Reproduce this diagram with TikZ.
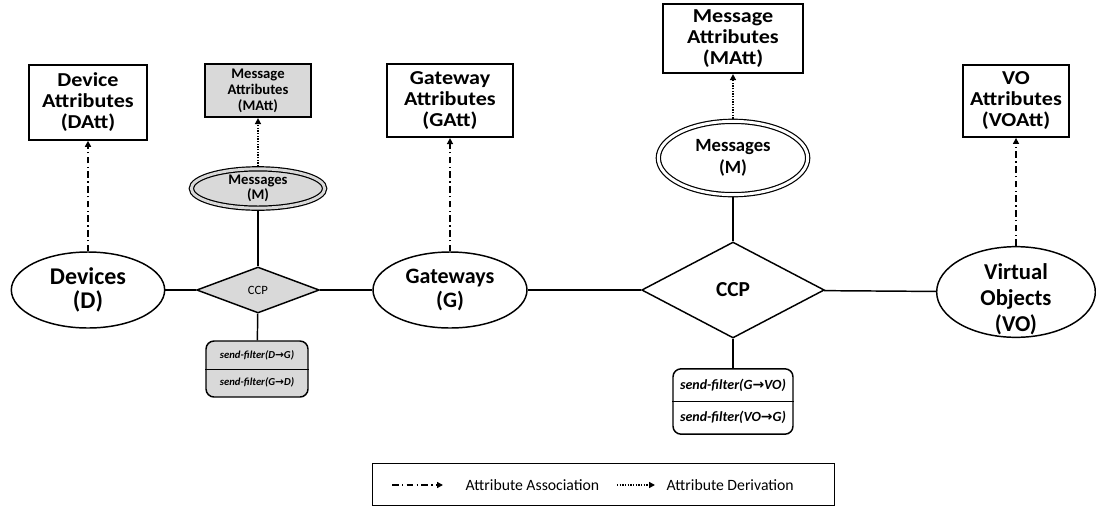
\documentclass[tikz,border=0pt]{standalone}
\usepackage{fontspec}
\setmainfont{Carlito}
\newfontfamily\boxfont{Carlito}[FakeStretch=1.12]
\newfontfamily\arrowfont{DejaVu Sans}
\usetikzlibrary{shapes.geometric,arrows.meta}
\definecolor{boxgray}{HTML}{D9D9D9}
\newcommand\arr{{\arrowfont\bfseries\char"2192}}

\begin{document}
\begin{tikzpicture}[x=0.75pt,y=-0.75pt,
  entity/.style={ellipse,draw,line width=1.1pt,fill=white,align=center,inner sep=0pt,font=\fontsize{16.5}{17.5}\selectfont\bfseries},
  attbox/.style={rectangle,draw,line width=1.4pt,fill=white,align=center,inner sep=0pt,font=\boxfont\fontsize{14.8}{15.75}\selectfont\bfseries},
  msg/.style={ellipse,draw,line width=0.9pt,double,double distance=2.2pt,align=center,inner sep=0pt},
  rel/.style={diamond,draw,line width=1.1pt,fill=white,inner sep=0pt},
  filt/.style={rectangle,draw,rounded corners=6pt,line width=1.1pt,fill=white},
  filttext/.style={inner sep=0pt},
  link/.style={line width=1.1pt},
  assoc/.style={line width=1.4pt,dash pattern=on 5pt off 2.5pt on 1pt off 2.5pt,-{Triangle[length=4.5pt,width=4.5pt]}},
  deriv/.style={line width=1.2pt,dash pattern=on 1pt off 1pt,-{Triangle[length=4.5pt,width=4.5pt]}}]
  \useasboundingbox (0,0) rectangle (1096,508);

  \node[entity,minimum width=115pt,minimum height=57pt,font=\fontsize{18}{18.5}\selectfont\bfseries] (d) at (88,290) {Devices\\(D)};
  \node[entity,minimum width=115.5pt,minimum height=57pt] (g) at (450,290) {Gateways\\(G)};
  \node[entity,minimum width=119pt,minimum height=68pt] (vo) at (1016,292) {};
  \node[align=center,inner sep=0pt,font=\fontsize{17}{19.5}\selectfont\bfseries] (vol) at (1016,299) {Virtual\\Objects\\(VO)};

  \node[attbox,minimum width=88pt,minimum height=56pt] (datt) at (88,102.5) {Device\\Attributes\\(DAtt)};
  \node[attbox,minimum width=95pt,minimum height=55pt] (gatt) at (450,100.5) {Gateway\\Attributes\\(GAtt)};
  \node[attbox,minimum width=80pt,minimum height=54pt] (voatt) at (1016,101) {VO\\Attributes\\(VOAtt)};
  \node[attbox,fill=boxgray,minimum width=80pt,minimum height=40pt,font=\fontsize{11}{12}\selectfont\bfseries] (matt1) at (258,90.5) {Message\\Attributes\\(MAtt)};
  \node[attbox,minimum width=105pt,minimum height=52pt] (matt2) at (733,38.5) {Message\\Attributes\\(MAtt)};

  \node[msg,fill=boxgray,double=boxgray,minimum width=100pt,minimum height=29.5pt,font=\fontsize{11}{11}\selectfont\bfseries] (m1) at (258,188.5) {Messages\\(M)};
  \node[msg,fill=white,minimum width=112pt,minimum height=55pt,font=\fontsize{14}{17}\selectfont\bfseries] (m2) at (733,158) {Messages\\(M)};

  \node[rel,fill=boxgray,minimum width=92pt,minimum height=34.5pt,font=\fontsize{9.5}{11}\selectfont] (ccp1) at (258,290) {CCP};
  \node[rel,minimum width=137pt,minimum height=72pt,font=\fontsize{16}{17}\selectfont\bfseries] (ccp2) at (733,290) {CCP};

  \node[filt,fill=boxgray,minimum width=76.5pt,minimum height=42pt] (sf1) at (257,369) {};
  \draw[line width=0.6pt] (sf1.west) -- (sf1.east);
  \node[filttext,font=\fontsize{8}{9}\selectfont\bfseries\itshape] (sf1a) at ([yshift=10pt]sf1.center) {send-filter(D\arr G)};
  \node[filttext,font=\fontsize{8}{9}\selectfont\bfseries\itshape] (sf1b) at ([yshift=-10pt]sf1.center) {send-filter(G\arr D)};

  \node[filt,minimum width=90pt,minimum height=49pt] (sf2) at (733,401.5) {};
  \draw[line width=0.6pt] (sf2.west) -- (sf2.east);
  \node[filttext,font=\fontsize{10.5}{12}\selectfont\bfseries\itshape] (sf2a) at ([yshift=12pt]sf2.center) {send-filter(G\arr VO)};
  \node[filttext,font=\fontsize{10.5}{12}\selectfont\bfseries\itshape] (sf2b) at ([yshift=-12pt]sf2.center) {send-filter(VO\arr G)};

  \draw[link] (d) -- (ccp1);
  \draw[link] (ccp1) -- (g);
  \draw[link] (g) -- (ccp2);
  \draw[link] (ccp2) -- (vo);
  \draw[link,shorten <=1.5pt] (m1) -- (ccp1);
  \draw[link] (ccp1) -- (sf1);
  \draw[link,shorten <=1.5pt] (m2) -- (ccp2);
  \draw[link] (ccp2) -- (sf2);

  \draw[assoc] (d) -- (datt);
  \draw[assoc] (g) -- (gatt);
  \draw[assoc] (vo) -- (voatt);
  \draw[deriv,shorten <=1.5pt] (m1) -- (matt1);
  \draw[deriv,shorten <=1.5pt] (m2) -- (matt2);

  \node[draw,line width=0.8pt,minimum width=347pt,minimum height=31pt] (legend) at (603.5,484.5) {};
  \coordinate (la) at (392,485);
  \coordinate (lb) at (443,485);
  \coordinate (lc) at (617,485);
  \coordinate (ld) at (655,485);
  \draw[assoc] (la) -- (lb);
  \draw[deriv] (lc) -- (ld);
  \node[anchor=west,font=\fontsize{11.8}{13}\selectfont] (lassoc) at (461,485) {Attribute Association};
  \node[anchor=west,font=\fontsize{11.8}{13}\selectfont] (lderiv) at (662,485) {Attribute Derivation};
\end{tikzpicture}
\end{document}
